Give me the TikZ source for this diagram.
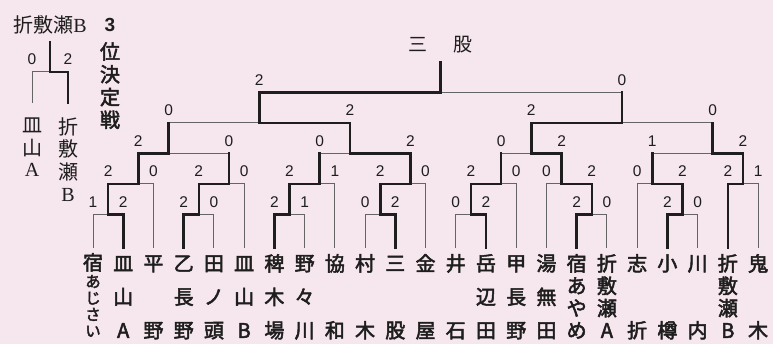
\documentclass[tikz,border=0pt]{standalone}
\usepackage{fontspec}
\setmainfont{Liberation Serif}
\setsansfont{Liberation Sans}
\newfontfamily\goth{Noto Sans CJK JP}
\newfontfamily\gothb{Noto Sans CJK JP}[FakeBold=2.5]
\definecolor{bgpink}{RGB}{246,230,237}
\definecolor{ink}{RGB}{30,30,30}
\definecolor{thingray}{RGB}{100,100,100}
\newcommand\ch[1]{\hbox to 24pt{\hss\vrule height 16.6pt depth 3.4pt width 0pt\relax #1\hss}}
\newcommand\cs[1]{\hbox to 24pt{\hss\vrule height 12.8pt depth 2.6pt width 0pt\relax{\fontsize{15.5}{15.5}\selectfont #1}\hss}}
\newcommand\cc[1]{\hbox to 24pt{\hss\vrule height 15.5pt depth 6pt width 0pt\relax #1\hss}}
\newcommand\vn[2]{\vbox to #1{\offinterlineskip #2}}
\newcommand\nmtwo[2]{\vn{83.6pt}{\ch{#1}\vfill\ch{#2}}}
\newcommand\nmthree[3]{\vn{83.6pt}{\ch{#1}\vfill\ch{#2}\vfill\ch{#3}}}
\newcommand\nmfour[4]{\vn{83.6pt}{\ch{#1}\vfill\ch{#2}\vfill\ch{#3}\vfill\ch{#4}}}
\newcommand\putscore[4]{\node[score,yshift=12.5pt] (#1) at (#2 |- #3) {#4};}
\newcommand\winedge[2]{\draw[win] (#1) |- (#2);}
\newcommand\loseleaf[2]{\draw[lose] (#1) |- (#2);}
\newcommand\losematch[2]{\draw[lose] (#1 |- #2) -- (#2); \draw[win] (#1) -- (#1 |- #2);}
\begin{document}
\begin{tikzpicture}[x=1pt,y=-1pt,
  win/.style={line width=2.6pt,draw=ink,line cap=rect,line join=miter},
  lose/.style={line width=1pt,draw=thingray},
  score/.style={font=\sffamily\fontsize{15.5}{15.5}\selectfont,text=ink,inner sep=0pt},
  nm/.style={font=\gothb\fontsize{20}{20}\selectfont,text=ink,inner sep=0pt,anchor=north},
  lbl/.style={font=\goth\fontsize{20}{20}\selectfont,text=ink,inner sep=0pt,anchor=north}]
\fill[bgpink] (0,0) rectangle (773,344);
\useasboundingbox (0,0) rectangle (773,344);

% leaves
\foreach \i in {0,...,22} {\coordinate (L\i) at ({93+30.23*\i},248);}
% matches
\coordinate (M01) at (108.1,214.5);
\coordinate (M02) at (138.3,184);
\coordinate (M34) at (198.8,214.5);
\coordinate (M35) at (229.0,184);
\coordinate (M05) at (168.6,153.5);
\coordinate (M67) at (289.5,214.5);
\coordinate (M68) at (319.7,184);
\coordinate (M910) at (380.2,214.5);
\coordinate (M911) at (410.4,184);
\coordinate (M611) at (350.0,153.5);
\coordinate (SFL) at (259.3,123);
\coordinate (M1213) at (470.9,214.5);
\coordinate (M1214) at (501.1,184);
\coordinate (M1617) at (591.8,214.5);
\coordinate (M1517) at (561.6,184);
\coordinate (M1217) at (531.3,153.5);
\coordinate (M1920) at (682.5,214.5);
\coordinate (M1820) at (652.3,184);
\coordinate (M2122) at (743.0,184);
\coordinate (M1822) at (712.7,153.5);
\coordinate (SFR) at (622.0,123);
\coordinate (F) at (440.7,92.5);
\coordinate (TOP) at (440.7,62);

% losers
\loseleaf{L0}{M01}
\loseleaf{L2}{M02}
\loseleaf{L4}{M34}
\loseleaf{L5}{M35}
\losematch{M35}{M05}
\loseleaf{L7}{M67}
\loseleaf{L8}{M68}
\loseleaf{L9}{M910}
\loseleaf{L11}{M911}
\losematch{M68}{M611}
\losematch{M05}{SFL}
\loseleaf{L12}{M1213}
\loseleaf{L14}{M1214}
\loseleaf{L17}{M1617}
\loseleaf{L15}{M1517}
\losematch{M1214}{M1217}
\loseleaf{L20}{M1920}
\loseleaf{L18}{M1820}
\loseleaf{L22}{M2122}
\losematch{M1820}{M1822}
\losematch{M1822}{SFR}
\losematch{SFR}{F}
% winners
\winedge{L1}{M01}
\winedge{M01}{M02}
\winedge{L3}{M34}
\winedge{M34}{M35}
\winedge{M02}{M05}
\winedge{L6}{M67}
\winedge{M67}{M68}
\winedge{L10}{M910}
\winedge{M910}{M911}
\winedge{M911}{M611}
\winedge{M611}{SFL}
\winedge{L13}{M1213}
\winedge{M1213}{M1214}
\winedge{L16}{M1617}
\winedge{M1617}{M1517}
\winedge{M1517}{M1217}
\winedge{L19}{M1920}
\winedge{M1920}{M1820}
\winedge{L21}{M2122}
\winedge{M2122}{M1822}
\winedge{M1217}{SFR}
\winedge{SFL}{F}
\draw[win] (F) -- (TOP);

% scores
\putscore{s0}{L0}{M01}{1}
\putscore{s1}{L1}{M01}{2}
\putscore{s2}{M01}{M02}{2}
\putscore{s3}{L2}{M02}{0}
\putscore{s4}{L3}{M34}{2}
\putscore{s5}{L4}{M34}{0}
\putscore{s6}{M34}{M35}{2}
\putscore{s7}{L5}{M35}{0}
\putscore{s8}{M02}{M05}{2}
\putscore{s9}{M35}{M05}{0}
\putscore{s10}{L6}{M67}{2}
\putscore{s11}{L7}{M67}{1}
\putscore{s12}{M67}{M68}{2}
\putscore{s13}{L8}{M68}{1}
\putscore{s14}{L9}{M910}{0}
\putscore{s15}{L10}{M910}{2}
\putscore{s16}{M910}{M911}{2}
\putscore{s17}{L11}{M911}{0}
\putscore{s18}{M68}{M611}{0}
\putscore{s19}{M911}{M611}{2}
\putscore{s20}{M05}{SFL}{0}
\putscore{s21}{M611}{SFL}{2}
\putscore{s22}{L12}{M1213}{0}
\putscore{s23}{L13}{M1213}{2}
\putscore{s24}{M1213}{M1214}{2}
\putscore{s25}{L14}{M1214}{0}
\putscore{s26}{L16}{M1617}{2}
\putscore{s27}{L17}{M1617}{0}
\putscore{s28}{L15}{M1517}{0}
\putscore{s29}{M1617}{M1517}{2}
\putscore{s30}{M1214}{M1217}{0}
\putscore{s31}{M1517}{M1217}{2}
\putscore{s32}{L19}{M1920}{2}
\putscore{s33}{L20}{M1920}{0}
\putscore{s34}{L18}{M1820}{0}
\putscore{s35}{M1920}{M1820}{2}
\putscore{s36}{L21}{M2122}{2}
\putscore{s37}{L22}{M2122}{1}
\putscore{s38}{M1820}{M1822}{1}
\putscore{s39}{M2122}{M1822}{2}
\putscore{s40}{M1217}{SFR}{2}
\putscore{s41}{M1822}{SFR}{0}
\putscore{s42}{SFL}{F}{2}
\putscore{s43}{SFR}{F}{0}

% team names
\node[nm,yshift=-5pt] (n0) at (L0) {\vn{83.5pt}{\ch{宿}\vfill\cs{あ}\vfill\cs{じ}\vfill\cs{さ}\vfill\cs{い}}};
\node[nm,yshift=-6pt] (n1) at (L1) {\nmthree{皿}{山}{A}};
\node[nm,yshift=-6pt] (n2) at (L2) {\nmtwo{平}{野}};
\node[nm,yshift=-6pt] (n3) at (L3) {\nmthree{乙}{長}{野}};
\node[nm,yshift=-6pt] (n4) at (L4) {\nmthree{田}{ノ}{頭}};
\node[nm,yshift=-6pt] (n5) at (L5) {\nmthree{皿}{山}{B}};
\node[nm,yshift=-6pt] (n6) at (L6) {\nmthree{稗}{木}{場}};
\node[nm,yshift=-6pt] (n7) at (L7) {\nmthree{野}{々}{川}};
\node[nm,yshift=-6pt] (n8) at (L8) {\nmtwo{協}{和}};
\node[nm,yshift=-6pt] (n9) at (L9) {\nmtwo{村}{木}};
\node[nm,yshift=-6pt] (n10) at (L10) {\nmtwo{三}{股}};
\node[nm,yshift=-6pt] (n11) at (L11) {\nmtwo{金}{屋}};
\node[nm,yshift=-6pt] (n12) at (L12) {\nmtwo{井}{石}};
\node[nm,yshift=-6pt] (n13) at (L13) {\nmthree{岳}{辺}{田}};
\node[nm,yshift=-6pt] (n14) at (L14) {\nmthree{甲}{長}{野}};
\node[nm,yshift=-6pt] (n15) at (L15) {\nmthree{湯}{無}{田}};
\node[nm,yshift=-6pt] (n16) at (L16) {\nmfour{宿}{あ}{や}{め}};
\node[nm,yshift=-6pt] (n17) at (L17) {\nmfour{折}{敷}{瀬}{A}};
\node[nm,yshift=-6pt] (n18) at (L18) {\nmtwo{志}{折}};
\node[nm,yshift=-6pt] (n19) at (L19) {\nmtwo{小}{樽}};
\node[nm,yshift=-6pt] (n20) at (L20) {\nmtwo{川}{内}};
\node[nm,yshift=-6pt] (n21) at (L21) {\nmfour{折}{敷}{瀬}{B}};
\node[nm,yshift=-6pt] (n22) at (L22) {\nmtwo{鬼}{木}};

% title of the bracket
\node[lbl,anchor=center,font=\goth\fontsize{19}{19}\selectfont] (title) at (440.7,45) {三\hspace{26pt}股};

% third place match
\node[lbl,anchor=center] (thirdwin) at (50,25) {折敷瀬{\rmfamily B}};
\coordinate (ma) at (32,103);
\coordinate (mb) at (68,103);
\coordinate (mm) at (50,72);
\coordinate (mt) at (50,42);
\loseleaf{ma}{mm}
\winedge{mb}{mm}
\draw[win] (mm) -- (mt);
\putscore{t0}{ma}{mm}{0}
\putscore{t1}{mb}{mm}{2}
\node[lbl] (la) at (32,117.1) {\vbox{\offinterlineskip\cc{皿}\cc{山}\cc{\rmfamily A}}};
\node[lbl] (lb) at (68,117.1) {\vbox{\offinterlineskip\cc{折}\cc{敷}\cc{瀬}\cc{\rmfamily B}}};
\node[font=\sffamily\bfseries\fontsize{19}{19}\selectfont,text=ink,inner sep=0pt] (t3) at (110,25) {3};
\node[lbl,font=\gothb\fontsize{20}{20}\selectfont] (tt) at (110,42.1) {\vbox{\offinterlineskip\cc{位}\cc{決}\cc{定}\cc{戦}}};
\end{tikzpicture}
\end{document}
